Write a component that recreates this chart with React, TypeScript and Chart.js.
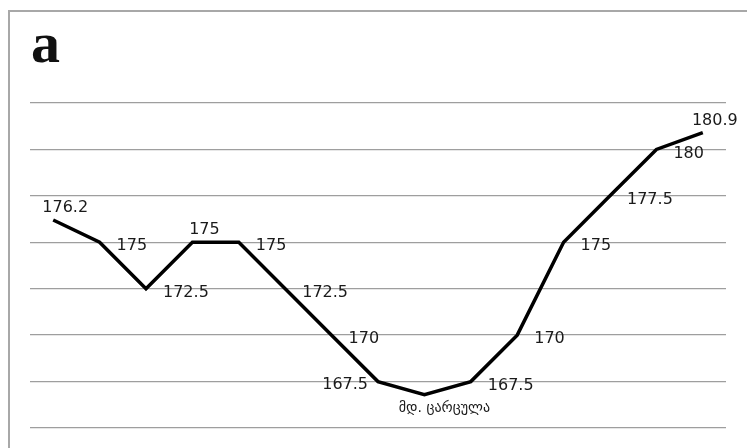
import React, { useEffect, useRef } from "react";
import { Chart, registerables } from "chart.js";

Chart.register(...registerables);

const titleText = "a";
const categories = ["1", "2", "3", "4", "5", "6", "7", "8", "9", "10", "11", "12", "13", "14", "15"];
const elevations = [176.2, 175, 172.5, 175, 175, 172.5, 170, 167.5, 166.8, 167.5, 170, 175, 177.5, 180, 180.9];
const riverName = "მდ. ცარცულა";
const riverIndex = 8;
const labelPositions = [
  "above", "right", "right", "above", "right", "right", "right", "left",
  "below", "right", "right", "right", "right", "right", "above",
];
const yMin = 165;
const yMax = 182.5;
const yStep = 2.5;

const labelFont = '16px "DejaVu Sans", Verdana, sans-serif';
const noteFont = '14px "DejaVu Sans", sans-serif';

const labelsPlugin = {
  id: "pointLabels",
  afterDatasetsDraw(chart: any) {
    const ctx = chart.ctx;
    const meta = chart.getDatasetMeta(0);
    ctx.save();
    ctx.fillStyle = "#1a1a1a";
    meta.data.forEach((pt: any, i: number) => {
      const pos = labelPositions[i];
      const isNote = i === riverIndex;
      const text = isNote ? riverName : String(elevations[i]);
      ctx.font = isNote ? noteFont : labelFont;
      ctx.textBaseline = "middle";
      let x = pt.x;
      let y = pt.y;
      if (pos === "right") {
        ctx.textAlign = "left";
        x += 17;
        y += 4;
      } else if (pos === "left") {
        ctx.textAlign = "right";
        x -= 10;
        y += 3;
      } else if (pos === "above") {
        ctx.textAlign = "center";
        x += 12;
        y -= 12;
      } else {
        ctx.textAlign = "center";
        x += 20;
        y += 14;
      }
      ctx.fillText(text, x, y);
    });
    ctx.restore();
  },
};

const titlePlugin = {
  id: "cornerTitle",
  afterDraw(chart: any) {
    const ctx = chart.ctx;
    ctx.save();
    ctx.font = 'bold 58px "Liberation Serif", "Times New Roman", serif';
    ctx.fillStyle = "#111";
    ctx.textAlign = "left";
    ctx.textBaseline = "alphabetic";
    ctx.fillText(titleText, 21, 50);
    ctx.restore();
  },
};

export default function App() {
  const ref = useRef<HTMLCanvasElement | null>(null);
  useEffect(() => {
    if (!ref.current) return;
    const chart = new Chart(ref.current, {
      type: "line",
      data: {
        labels: categories,
        datasets: [
          {
            data: elevations,
            borderColor: "#000",
            borderWidth: 3.5,
            pointRadius: 0,
            tension: 0,
            fill: false,
            borderJoinStyle: "miter",
          } as any,
        ],
      },
      options: {
        responsive: false,
        animation: false,
        layout: { padding: { left: 20, right: 21, top: 91, bottom: 20 } },
        plugins: { legend: { display: false }, tooltip: { enabled: false }, title: { display: false } },
        scales: {
          x: { type: "category", display: false, offset: true },
          y: {
            min: yMin,
            max: yMax,
            ticks: { display: false, stepSize: yStep },
            border: { display: false },
            grid: { color: "#9e9e9e", lineWidth: 1.3, drawTicks: false },
          },
        },
      },
      plugins: [labelsPlugin, titlePlugin],
    });
    return () => chart.destroy();
  }, []);
  return (
    <div
      style={{
        position: "fixed",
        left: 8,
        top: 10,
        width: 739,
        height: 438,
        borderTop: "2px solid #a8a8a8",
        borderLeft: "2px solid #a8a8a8",
        boxSizing: "border-box",
        background: "#fff",
      }}
    >
      <canvas ref={ref} width={737} height={436} style={{ display: "block", width: 737, height: 436 }} />
    </div>
  );
}
